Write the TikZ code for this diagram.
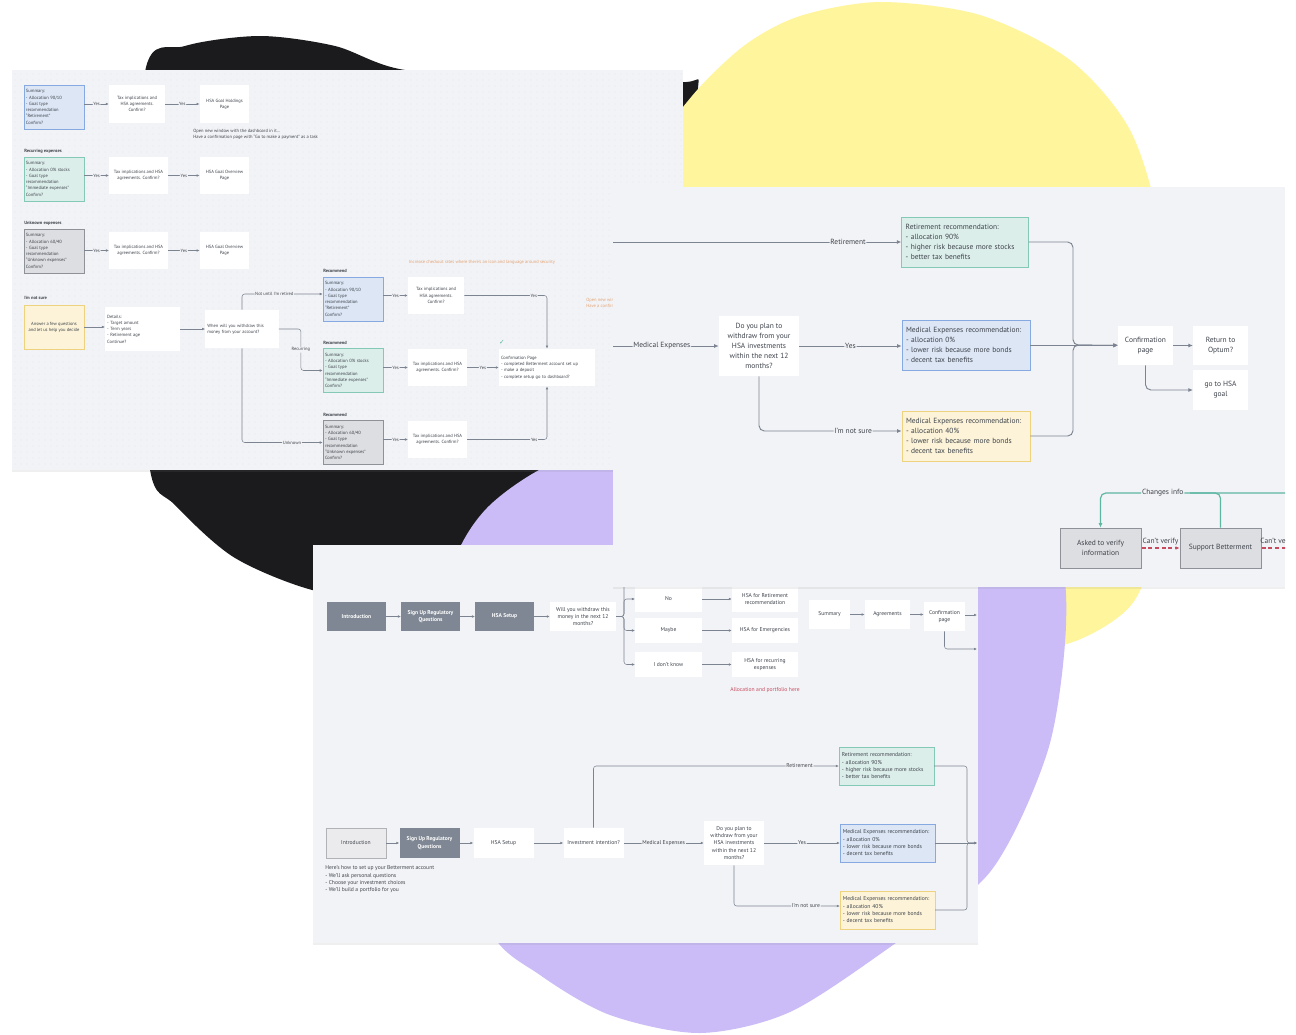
\documentclass[tikz,border=0pt]{standalone}
\usepackage{fontspec}
\setmainfont{PT Sans}
\newfontfamily\simbol{DejaVu Sans}
\usetikzlibrary{positioning,arrows.meta,calc,shadows}

\definecolor{negru}{HTML}{1B1B1D}
\definecolor{galben}{HTML}{FFF59C}
\definecolor{mov}{HTML}{CBBCF8}
\definecolor{fundal}{HTML}{F2F3F6}
\definecolor{linie}{HTML}{7C8491}
\definecolor{textgri}{HTML}{3E434B}
\definecolor{verdeF}{HTML}{DCEEEA}
\definecolor{verdeB}{HTML}{84C9B6}
\definecolor{albastruF}{HTML}{DCE6F5}
\definecolor{albastruB}{HTML}{86A9E2}
\definecolor{galbenF}{HTML}{FCF3D8}
\definecolor{galbenB}{HTML}{EFD27E}
\definecolor{griF}{HTML}{DDDEE1}
\definecolor{griB}{HTML}{8E9197}
\definecolor{inchis}{HTML}{7E8793}
\definecolor{portocaliu}{HTML}{E3A273}
\definecolor{rosu}{HTML}{C74B5E}
\definecolor{verdeL}{HTML}{5DB7A2}
\definecolor{punct}{HTML}{CDD1D9}

\newcommand{\fmic}{\fontsize{3.4}{4.7}\selectfont}
\newcommand{\fmed}{\fontsize{4.2}{5.5}\selectfont}
\newcommand{\fmare}{\fontsize{5.6}{7.5}\selectfont}

\tikzset{
  panou/.style       = {fill=fundal, drop shadow={shadow xshift=0pt, shadow yshift=-1.5pt, opacity=0.12}},
  cutie/.style       = {fill=white, align=center, inner sep=1pt, text=textgri},
  cutiest/.style     = {cutie, align=left, inner sep=1.5pt},
  verde/.style       = {fill=verdeF, draw=verdeB, line width=0.5pt},
  albastru/.style    = {fill=albastruF, draw=albastruB, line width=0.5pt},
  galb/.style        = {fill=galbenF, draw=galbenB, line width=0.5pt},
  gri/.style         = {fill=griF, draw=griB, line width=0.5pt},
  inchisa/.style     = {fill=inchis, text=white, font=\fmed\bfseries},
  titlu/.style       = {anchor=west, inner sep=0pt, text=textgri, font=\fmic\bfseries},
  nota/.style        = {anchor=north west, inner sep=0pt, align=left, text=textgri},
  sageata/.style     = {draw=linie, line width=0.4pt, rounded corners=2pt, -{Latex[length=2.2pt,width=2pt]}},
  sageatamare/.style = {draw=linie, line width=0.7pt, rounded corners=4pt, -{Latex[length=3.4pt,width=3pt]}},
  eticheta/.style    = {fill=fundal, inner sep=0.6pt, text=textgri}
}

\begin{document}
\begin{tikzpicture}[x=0.75pt, y=-0.75pt]
	\useasboundingbox (0,0) rectangle (1296,1035);
	\fill[white] (0,0) rectangle (1296,1035);

	\fill[negru] plot[smooth cycle] coordinates {(145,72) (185,46) (260,36) (335,46) (405,70) (550,78) (680,82) (698,88) (670,200) (640,340) (600,460) (520,560) (420,600) (320,592) (235,558) (175,505) (150,470) (138,300)};
	\fill[galben] plot[smooth cycle] coordinates {(880,2) (980,15) (1070,60) (1130,130) (1160,230) (1172,380) (1160,520) (1132,604) (1063,645) (980,640) (900,580) (800,500) (680,380) (640,260) (650,160) (692,96) (745,45) (800,16)};
	\fill[mov] plot[smooth cycle] coordinates {(490,505) (560,460) (680,430) (850,440) (985,480) (1055,545) (1066,625) (1048,750) (990,872) (893,945) (790,1012) (700,1033) (610,1015) (540,975) (490,930) (455,800) (448,640) (455,560)};

	\fill[panou] (12,70) rectangle (683,470);
	\begin{scope}[font=\fmic]
		\clip (12,70) rectangle (683,470);
		\foreach \yy in {74,80,...,468}
			\draw[punct, line width=0.7pt, line cap=round, dash pattern=on 0pt off 4.5pt] (15,\yy) -- (683,\yy);

		\node[cutiest, albastru, text width=42pt, minimum height=33pt] (a1) at (54,107) {Summary:\\- Allocation 90/10\\- Goal type\\recommendation\\``Retirement''\\Confirm?};
		\node[cutie, minimum width=42pt, minimum height=28pt] (b1) at (137,104) {Tax implications and\\HSA agreements.\\Confirm?};
		\node[cutie, minimum width=37pt, minimum height=28pt] (c1) at (224.5,104) {HSA Goal Holdings\\Page};
		\node[nota] (n1) at (193,129) {Open new window with the dashboard in it...\\Have a confirmation page with ``Go to make a payment'' as a task};

		\node[titlu] (h2) at (24,151) {Recurring expenses};
		\node[cutiest, verde, text width=42pt, minimum height=33pt] (a2) at (54,179) {Summary:\\- Allocation 0\% stocks\\- Goal type\\recommendation\\``Immediate expenses''\\Confirm?};
		\node[cutie, minimum width=44pt, minimum height=28pt] (b2) at (138.5,175.5) {Tax implications and HSA\\agreements. Confirm?};
		\node[cutie, minimum width=37pt, minimum height=28pt] (c2) at (224.5,175.5) {HSA Goal Overview\\Page};

		\node[titlu] (h3) at (24,223) {Unknown expenses};
		\node[cutiest, gri, text width=42pt, minimum height=33pt] (a3) at (54,251) {Summary:\\- Allocation 60/40\\- Goal type\\recommendation\\``Unknown expenses''\\Confirm?};
		\node[cutie, minimum width=44pt, minimum height=28pt] (b3) at (138.5,250.5) {Tax implications and HSA\\agreements. Confirm?};
		\node[cutie, minimum width=37pt, minimum height=28pt] (c3) at (224.5,250.5) {HSA Goal Overview\\Page};

		\node[titlu] (h4) at (24,298) {I'm not sure};
		\node[cutie, galb, minimum width=45pt, minimum height=33pt] (d) at (54,327) {Answer a few questions\\and let us help you decide};
		\node[cutiest, text width=53pt, minimum height=33pt] (e) at (142.5,329) {Details:\\- Target amount\\- Term years\\- Retirement age\\Continue?};
		\node[cutiest, text width=52pt, minimum height=28.5pt] (f) at (242,329) {When will you withdraw this\\money from your account?};

		\node[titlu] (hr1) at (323,271) {Recommend};
		\node[cutiest, albastru, text width=42pt, minimum height=33pt] (r1) at (353,299) {Summary:\\- Allocation 90/10\\- Goal type\\recommendation\\``Retirement''\\Confirm?};
		\node[cutie, minimum width=42pt, minimum height=28pt] (t1) at (436,295.5) {Tax implications and\\HSA agreements.\\Confirm?};
		\node[titlu] (hr2) at (323,343) {Recommend};
		\node[cutiest, verde, text width=42pt, minimum height=33pt] (r2) at (353,370.5) {Summary:\\- Allocation 0\% stocks\\- Goal type\\recommendation\\``Immediate expenses''\\Confirm?};
		\node[cutie, minimum width=44pt, minimum height=28pt] (t2) at (437.5,367.5) {Tax implications and HSA\\agreements. Confirm?};
		\node[titlu] (hr3) at (323,415) {Recommend};
		\node[cutiest, gri, text width=42pt, minimum height=33pt] (r3) at (353,442.5) {Summary:\\- Allocation 60/40\\- Goal type\\recommendation\\``Unknown expenses''\\Confirm?};
		\node[cutie, minimum width=44pt, minimum height=28pt] (t3) at (437.5,439.5) {Tax implications and HSA\\agreements. Confirm?};
		\node[cutiest, text width=69pt, minimum height=28pt] (cf) at (547,367.5) {Confirmation Page\\- completed Betterment account set up\\- make a deposit\\- complete setup go to dashboard?};
		\node[text=verdeL, font={\simbol\fontsize{5}{5}\selectfont}, inner sep=0pt] (bifa) at (502,342) {✓};
		\node[text=portocaliu] (n2) at (482,262) {Increase checkout rates where there's an icon and language around security};
		\node[nota, text=portocaliu] (n3) at (586,298) {Open new window with the dashboard in it...\\Have a confirmation page};

		\draw[sageata] (a1.east |- b1.west) -- node[eticheta] {Yes} (b1.west);
		\draw[sageata] (b1) -- node[eticheta] {Yes} (c1);
		\draw[sageata] (a2.east |- b2.west) -- node[eticheta] {Yes} (b2.west);
		\draw[sageata] (b2) -- node[eticheta] {Yes} (c2);
		\draw[sageata] (a3.east |- b3.west) -- node[eticheta] {Yes} (b3.west);
		\draw[sageata] (b3) -- node[eticheta] {Yes} (c3);
		\draw[sageata] (d.east) -- (d.east -| e.west);
		\draw[sageata] (e.east) -- (e.east -| f.west);
		\draw[sageata] (f.north) |- node[eticheta, pos=0.7] {Not until I'm retired} ($(r1.west)+(0,-5)$);
		\draw[sageata] (f.east) -- ++(22,0) |- node[eticheta, pos=0.25] {Recurring} (r2.west);
		\draw[sageata] (f.south) |- node[eticheta, pos=0.81] {Unknown} (r3.west);
		\draw[sageata] (r1.east |- t1.west) -- node[eticheta] {Yes} (t1.west);
		\draw[sageata] (r2.east |- t2.west) -- node[eticheta] {Yes} (t2.west);
		\draw[sageata] (r3.east |- t3.west) -- node[eticheta] {Yes} (t3.west);
		\draw[sageata] (t1.east) -| node[eticheta, pos=0.42] {Yes} (cf.north);
		\draw[sageata] (t2) -- node[eticheta] {Yes} (cf);
		\draw[sageata] (t3.east) -| node[eticheta, pos=0.42] {Yes} (cf.south);
	\end{scope}

	\fill[panou] (313,545) rectangle (978,943);
	\begin{scope}[font=\fmed]
		\clip (313,545) rectangle (978,943);
		\node[cutie, inchisa, minimum width=44pt, minimum height=22pt] (i1) at (356.5,616.5) {Introduction};
		\node[cutie, inchisa, minimum width=44pt, minimum height=22pt] (s1) at (430.5,616.5) {Sign Up Regulatory\\Questions};
		\node[cutie, inchisa, minimum width=44pt, minimum height=22pt] (hs1) at (504.5,616.5) {HSA Setup};
		\node[cutie, minimum width=49.5pt, minimum height=22pt] (w1) at (583,616.5) {Will you withdraw this\\money in the next 12\\months?};
		\coordinate (ram) at (624,616.5);
		\coordinate (ramsus) at (640,570);
		\node[cutie, minimum width=50pt, minimum height=19.5pt] (nu) at (668.5,599) {No};
		\node[cutie, minimum width=49.5pt, minimum height=19.5pt] (hr) at (765,599) {HSA for Retirement\\recommendation};
		\node[cutie, minimum width=50pt, minimum height=19pt] (poate) at (668.5,630.5) {Maybe};
		\node[cutie, minimum width=49.5pt, minimum height=19pt] (he) at (765,630.5) {HSA for Emergencies};
		\node[cutie, minimum width=50pt, minimum height=19pt] (nustiu) at (668.5,664.5) {I don't know};
		\node[cutie, minimum width=49.5pt, minimum height=19pt] (hre) at (765,664.5) {HSA for recurring\\expenses};
		\node[text=rosu] (n4) at (765,690) {Allocation and portfolio here};
		\node[cutie, minimum width=31pt, minimum height=22pt] (sum) at (829.5,614.5) {Summary};
		\node[cutie, minimum width=34pt, minimum height=22pt] (agr) at (887.5,614.5) {Agreements};
		\node[cutie, minimum width=31pt, minimum height=22pt] (cp) at (944.5,616.5) {Confirmation\\page};
		\coordinate (iesire1) at (977,615);
		\coordinate (iesire2) at (977,649);

		\draw[sageata] (i1) -- (s1);
		\draw[sageata] (s1) -- (hs1);
		\draw[sageata] (hs1) -- (w1);
		\draw[sageata] (w1.east) -- (ram) |- (ramsus);
		\draw[sageata] (w1.east) -- (ram) |- (nu.west);
		\draw[sageata] (w1.east) -- (ram) |- (poate.west);
		\draw[sageata] (w1.east) -- (ram) |- (nustiu.west);
		\draw[sageata] (nu) -- (hr);
		\draw[sageata] (poate) -- (he);
		\draw[sageata] (nustiu) -- (hre);
		\draw[sageata] (sum) -- (agr);
		\draw[sageata] (agr.east) -- (agr.east -| cp.west);
		\draw[sageata] (cp.east |- iesire1) -- (iesire1);
		\draw[sageata] (cp.south) |- (iesire2);

		\node[cutie, gri, fill=griF!60!white, draw=griB!70, minimum width=45pt, minimum height=22.5pt] (i2) at (356,843) {Introduction};
		\node[cutie, inchisa, minimum width=45pt, minimum height=22.5pt] (s2) at (429.5,843) {Sign Up Regulatory\\Questions};
		\node[cutie, minimum width=45pt, minimum height=22.5pt] (hs2) at (503.5,843) {HSA Setup};
		\node[cutie, minimum width=45pt, minimum height=22.5pt] (inv) at (593.5,843) {Investment intention?};
		\node[nota] (n5) at (325,865.5) {Here's how to set up your Betterment account\\- We'll ask personal questions\\- Choose your investment choices\\- We'll build a portfolio for you};
		\node[cutie, minimum width=45pt, minimum height=33pt] (q2) at (734,843) {Do you plan to\\withdraw from your\\HSA investments\\within the next 12\\months?};
		\node[cutiest, verde, text width=67pt, minimum height=28.5pt, inner sep=2pt] (ret2) at (886.5,766) {Retirement recommendation:\\- allocation 90\%\\- higher risk because more stocks\\- better tax benefits};
		\node[cutiest, albastru, text width=67pt, minimum height=28.5pt, inner sep=2pt] (med2) at (887.5,843) {Medical Expenses recommendation:\\- allocation 0\%\\- lower risk because more bonds\\- decent tax benefits};
		\node[cutiest, galb, text width=67pt, minimum height=28.5pt, inner sep=2pt] (medp2) at (887.5,910) {Medical Expenses recommendation:\\- allocation 40\%\\- lower risk because more bonds\\- decent tax benefits};
		\coordinate (unire2) at (967,843);
		\coordinate (iesire3) at (977,843);

		\draw[sageata] (i2) -- (s2);
		\draw[sageata] (s2) -- (hs2);
		\draw[sageata] (hs2) -- (inv);
		\draw[sageata] (inv.north) |- node[eticheta, pos=0.92] {Retirement} (ret2.west);
		\draw[sageata] (inv) -- node[eticheta] {Medical Expenses} (q2);
		\draw[sageata] (q2) -- node[eticheta] {Yes} (med2);
		\draw[sageata] (q2.south) |- node[eticheta, pos=0.84] {I'm not sure} ($(medp2.west)+(0,-4)$);
		\draw[sageata] (ret2.east) -| (unire2) -- (iesire3);
		\draw[sageata] (med2) -- (iesire3);
		\draw[sageata] (medp2.east) -| (unire2) -- (iesire3);
	\end{scope}

	\fill[panou] (613,187) rectangle (1285,587);
	\begin{scope}[font=\fmare]
		\clip (613,187) rectangle (1285,587);
		\coordinate (intrR) at (605,242);
		\coordinate (intrM) at (605,346);
		\node[cutiest, verde, text width=89pt, minimum height=37.5pt, inner sep=3pt] (ret) at (965,242) {Retirement recommendation:\\- allocation 90\%\\- higher risk because more stocks\\- better tax benefits};
		\node[cutie, minimum width=60pt, minimum height=45pt] (q) at (759,346) {Do you plan to\\withdraw from your\\HSA investments\\within the next 12\\months?};
		\node[cutiest, albastru, text width=90pt, minimum height=37.5pt, inner sep=3pt] (med) at (966,345) {Medical Expenses recommendation:\\- allocation 0\%\\- lower risk because more bonds\\- decent tax benefits};
		\node[cutiest, galb, text width=90pt, minimum height=37.5pt, inner sep=3pt] (medp) at (966,436) {Medical Expenses recommendation:\\- allocation 40\%\\- lower risk because more bonds\\- decent tax benefits};
		\coordinate (unire) at (1073,345);
		\node[cutie, minimum width=41pt, minimum height=29.5pt] (conf) at (1145.5,345.5) {Confirmation\\page};
		\node[cutie, minimum width=41pt, minimum height=29.5pt] (optum) at (1220.5,345.5) {Return to\\Optum?};
		\node[cutie, minimum width=41pt, minimum height=30pt] (merg) at (1220.5,390) {go to HSA\\goal};
		\node[cutie, gri, minimum width=61pt, minimum height=30pt] (verif) at (1100.5,548) {Asked to verify\\information};
		\node[cutie, gri, minimum width=61pt, minimum height=30pt] (suport) at (1220.5,548) {Support Betterment};
		\coordinate (schimb) at (1295,493);
		\coordinate (schimbm) at (1190,493);
		\coordinate (iesire4) at (1295,548);

		\draw[sageatamare] (intrR) -- node[eticheta, pos=0.82] {Retirement} (ret.west);
		\draw[sageatamare] (intrM) -- node[eticheta] {Medical Expenses} (q.west);
		\draw[sageatamare] (q.east) -- node[eticheta] {Yes} (q.east -| med.west);
		\draw[sageatamare] (q.south) |- node[eticheta, pos=0.83] {I'm not sure} ($(medp.west)+(0,-5)$);
		\draw[sageatamare] (ret.east) -| (unire) -- (conf.west);
		\draw[sageatamare] (med.east) -- (med.east -| conf.west);
		\draw[sageatamare] (medp.east) -| (unire) -- (conf.west);
		\draw[sageatamare] (conf) -- (optum);
		\draw[sageatamare] (conf.south) |- (merg.west);
		\draw[verdeL, line width=0.9pt, rounded corners=4pt, -{Latex[length=3.4pt,width=3pt]}] (schimb) -| node[eticheta, pos=0.34] {Changes info} (verif.north);
		\draw[verdeL, line width=0.9pt, rounded corners=4pt] (suport.north) |- (schimbm);
		\draw[rosu, line width=0.8pt, dash pattern=on 3pt off 2pt, -{Latex[length=3pt,width=2.8pt]}] (verif) -- node[above, text=textgri, inner sep=1.5pt] {Can't verify} (suport);
		\draw[rosu, line width=0.8pt, dash pattern=on 3pt off 2pt, -{Latex[length=3pt,width=2.8pt]}] (suport) -- node[above, text=textgri, inner sep=1.5pt] {Can't verify} (iesire4);
	\end{scope}
\end{tikzpicture}
\end{document}
